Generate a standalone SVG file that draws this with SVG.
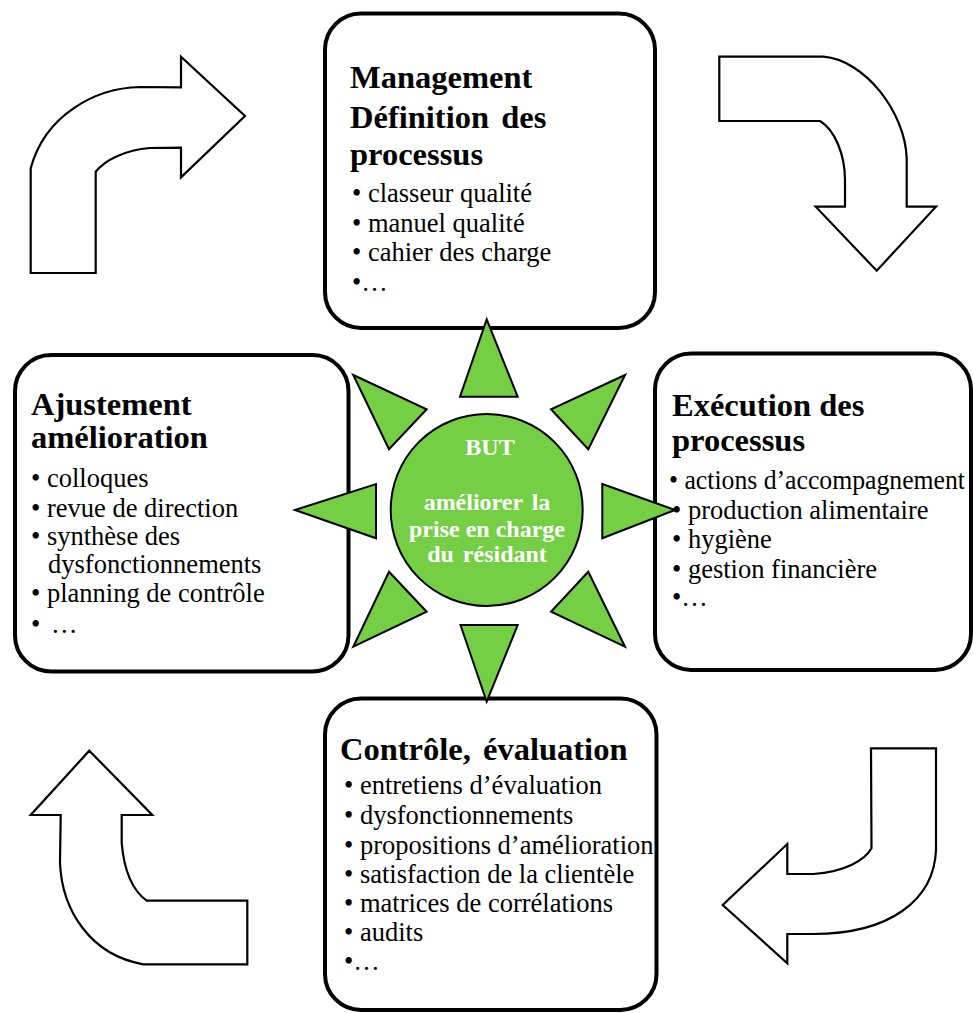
<svg xmlns="http://www.w3.org/2000/svg" width="973" height="1013" viewBox="0 0 973 1013">
<style>
.box{fill:#fff;stroke:#000;stroke-width:4}
.arr{fill:#fff;stroke:#000;stroke-width:2.2;stroke-linejoin:miter}
.ray{fill:#74CF45;stroke:#000;stroke-width:2;stroke-linejoin:miter}
.t{font-family:"Liberation Serif","Times New Roman",serif;font-weight:bold;font-size:32.5px;fill:#000}
.b{font-family:"Liberation Serif","Times New Roman",serif;font-size:26.5px;fill:#000}
.g{font-family:"Liberation Serif","Times New Roman",serif;font-weight:bold;font-size:24px;fill:#fff;text-anchor:middle}
</style>
<rect width="973" height="1013" fill="#fff"/>
<g id="connectors">
<path class="arr" d="M30.7,273 L95.7,273 L95.7,171.7 C105,160 125,150 150,148 L181,147.7 L181,177.3 L245,116 L181,56.7 L181,87.3 L140,87 C95,88 45,115 30.7,168.3 Z"/>
<path class="arr" d="M719.3,56.7 L823.3,56.7 C865,60 905,112 906.7,158 L906.7,206.7 L936,206.7 L876.7,270.7 L815.7,206.7 L845,206.7 L845,180 C845,155 835,130 820,121 L719.3,121 Z"/>
<path class="arr" d="M871,748.3 L936,748.3 L936,850 C934,900 890,934 813,934 L787.3,934 L787.3,963.3 L722.7,905 L787.3,844 L787.3,874 L813.3,874 C845,872 865,860 871.5,848.3 Z"/>
<path class="arr" d="M89.3,750.7 L152.3,815 L121.7,815 L121.7,843 C124,870 132,890 146.7,900.7 L247.3,900.7 L247.3,964.3 L143.3,964.3 C90,955 62,910 60,863 L60.7,815 L30.7,815 Z"/>
</g>
<g id="box-management">
<rect class="box" x="325" y="13.5" width="330" height="314.5" rx="36"/>
<text class="t" x="350" y="88">Management</text>
<text class="t" x="350" y="128" word-spacing="4">Définition des</text>
<text class="t" x="350" y="165">processus</text>
<text class="b" x="352" y="202">• classeur qualité</text>
<text class="b" x="352" y="231.5">• manuel qualité</text>
<text class="b" x="352" y="261">• cahier des charge</text>
<text class="b" x="352" y="291">•…</text>
</g>
<g id="box-ajustement">
<rect class="box" x="15" y="355" width="333.5" height="316.5" rx="36"/>
<text class="t" x="31" y="415">Ajustement</text>
<text class="t" x="31" y="448">amélioration</text>
<text class="b" x="31" y="487">• colloques</text>
<text class="b" x="31" y="517">• revue de direction</text>
<text class="b" x="31" y="545">• synthèse des</text>
<text class="b" x="48" y="573">dysfonctionnements</text>
<text class="b" x="31" y="602">• planning de contrôle</text>
<text class="b" x="31" y="633">•<tspan x="51">…</tspan></text>
</g>
<g id="box-execution">
<rect class="box" x="655" y="353.5" width="316" height="316.5" rx="36"/>
<text class="t" x="672" y="416">Exécution des</text>
<text class="t" x="672" y="451">processus</text>
<text class="b" x="669" y="489" font-size="23.5" textLength="296" lengthAdjust="spacingAndGlyphs">• actions d’accompagnement</text>
<text class="b" x="672" y="519">• production alimentaire</text>
<text class="b" x="672" y="548">• hygiène</text>
<text class="b" x="672" y="578">• gestion financière</text>
<text class="b" x="672" y="606">•…</text>
</g>
<g id="box-controle">
<rect class="box" x="325" y="698.5" width="331.5" height="311.5" rx="36"/>
<text class="t" x="340" y="760" word-spacing="4">Contrôle, évaluation</text>
<text class="b" x="344" y="794">• entretiens d’évaluation</text>
<text class="b" x="344" y="824">• dysfonctionnements</text>
<text class="b" x="344" y="854">• propositions d’amélioration</text>
<text class="b" x="344" y="883">• satisfaction de la clientèle</text>
<text class="b" x="344" y="912">• matrices de corrélations</text>
<text class="b" x="344" y="941">• audits</text>
<text class="b" x="344" y="970">•…</text>
</g>
<g id="goal">
<polygon class="ray" points="486.7,319.3 460,396.7 517.7,396.7"/>
<polygon class="ray" points="486.7,701.7 460.5,625 517.7,625"/>
<polygon class="ray" points="295,510 376,484 376,538.3"/>
<polygon class="ray" points="675,510 602.3,484 602.3,538.3"/>
<polygon class="ray" points="353.3,375 426.7,409.3 389,449.3"/>
<polygon class="ray" points="625,375 551,409.3 588.3,449.3"/>
<polygon class="ray" points="389,571.7 426.7,611.7 353.3,646.7"/>
<polygon class="ray" points="588.3,571.7 551,611.7 625,646.7"/>
<circle class="ray" cx="486.7" cy="510" r="96"/>
<text class="g" x="490" y="455" font-size="21">BUT</text>
<text class="g" x="487" y="510" word-spacing="3">améliorer la</text>
<text class="g" x="487" y="536.5">prise en charge</text>
<text class="g" x="487" y="562" word-spacing="3">du résidant</text>
</g>
</svg>
